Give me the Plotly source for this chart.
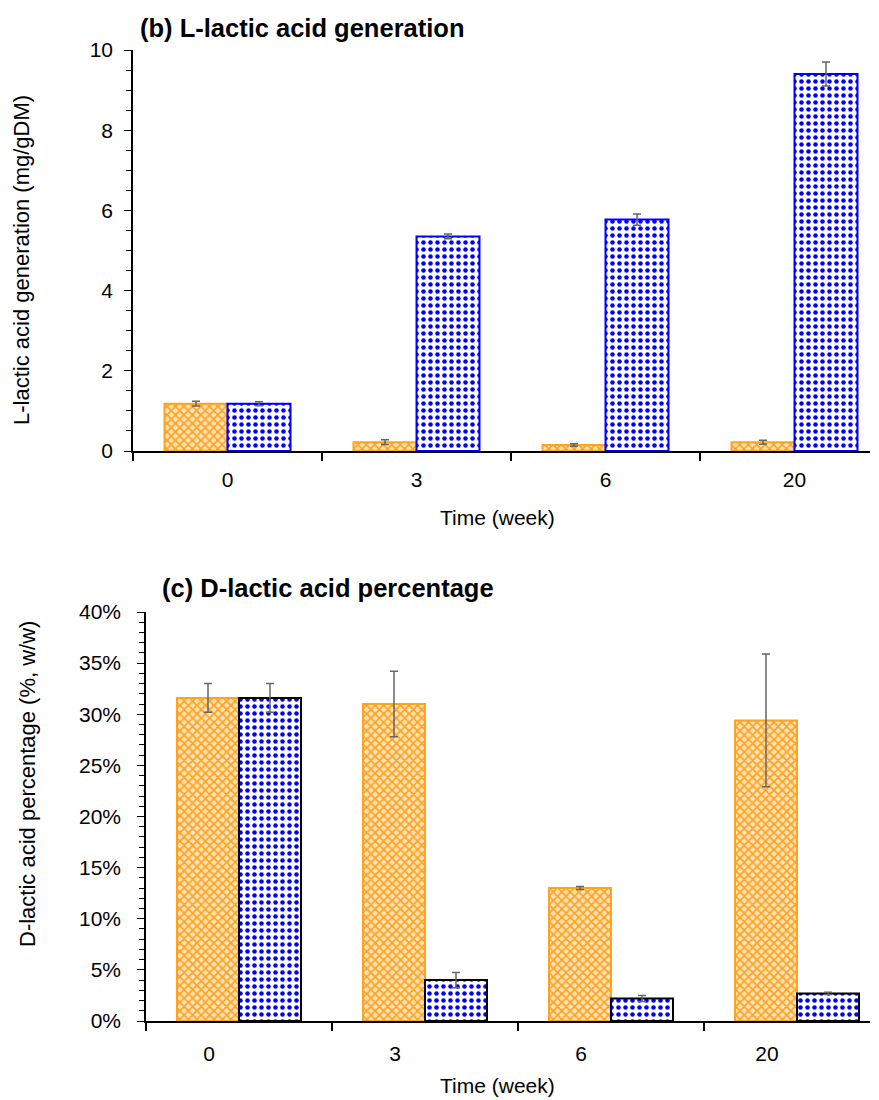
import plotly.graph_objects as go

weeks = ["0", "3", "6", "20"]

# (b) L-lactic acid generation (mg/gDM)
l_orange = [1.18, 0.22, 0.15, 0.22]
l_orange_err = [0.06, 0.06, 0.03, 0.05]
l_blue = [1.18, 5.35, 5.77, 9.40]
l_blue_err = [0.05, 0.06, 0.14, 0.30]

# (c) D-lactic acid percentage (fraction)
d_orange = [0.316, 0.310, 0.130, 0.294]
d_orange_err = [0.014, 0.032, 0.0015, 0.065]
d_blue = [0.316, 0.040, 0.022, 0.027]
d_blue_err = [0.014, 0.0075, 0.003, 0.001]

ORANGE = "#FFA21F"
BLUE = "#0000FF"
ERR = "#666666"
FONT = "Liberation Sans, Arial, sans-serif"

W, H = 879, 1100


def px_x(p):
    return p / W


def px_y(p):
    return 1 - p / H


orange_pattern = dict(shape="x", fgcolor=ORANGE, bgcolor="#FFE3B8", size=6, solidity=0.5)
blue_pattern = dict(shape=".", fgcolor=BLUE, bgcolor="white", size=7, solidity=0.33)

fig = go.Figure()

# top chart
fig.add_trace(go.Bar(
    x=weeks, y=l_orange, xaxis="x", yaxis="y",
    marker=dict(color="white", pattern=orange_pattern, line=dict(color=ORANGE, width=2)),
    error_y=dict(type="data", array=l_orange_err, color=ERR, thickness=1.5, width=4),
    showlegend=False,
))
fig.add_trace(go.Bar(
    x=weeks, y=l_blue, xaxis="x", yaxis="y",
    marker=dict(color="white", pattern=blue_pattern, line=dict(color=BLUE, width=2)),
    error_y=dict(type="data", array=l_blue_err, color=ERR, thickness=1.5, width=4),
    showlegend=False,
))

# bottom chart
fig.add_trace(go.Bar(
    x=weeks, y=d_orange, xaxis="x2", yaxis="y2",
    marker=dict(color="white", pattern=orange_pattern, line=dict(color=ORANGE, width=2)),
    error_y=dict(type="data", array=d_orange_err, color=ERR, thickness=1.5, width=4),
    showlegend=False,
))
fig.add_trace(go.Bar(
    x=weeks, y=d_blue, xaxis="x2", yaxis="y2",
    marker=dict(color="white", pattern=blue_pattern, line=dict(color="black", width=2)),
    error_y=dict(type="data", array=d_blue_err, color=ERR, thickness=1.5, width=4),
    showlegend=False,
))

top_x0, top_x1 = 133, 870
top_cat = 189.0
bot_x0, bot_x1 = 146, 870
bot_cat = 186.0

tick_font = dict(family=FONT, size=21, color="black")
title_font = dict(family=FONT, size=21, color="black")
ytitle_font = dict(family=FONT, size=22, color="black")
head_font = dict(family=FONT, size=25.5, color="black")

fig.update_layout(
    template="none",
    width=W, height=H,
    margin=dict(l=0, r=0, t=0, b=0),
    paper_bgcolor="white", plot_bgcolor="white",
    barmode="group", bargap=1/3, bargroupgap=0,
    font=dict(family=FONT, size=20, color="black"),
    xaxis=dict(
        domain=[px_x(top_x0), px_x(top_x1)], anchor="y", type="category",
        range=[-0.5, -0.5 + (top_x1 - top_x0) / top_cat], automargin=False,
        showline=True, linecolor="black", linewidth=1.5,
        ticks="outside", tickson="boundaries", ticklen=8, tickcolor="black", tickwidth=1.5,
        ticklabelstandoff=9,
        tickfont=tick_font, showgrid=False, zeroline=False,
    ),
    yaxis=dict(
        domain=[px_y(451), px_y(50)], anchor="x", automargin=False,
        range=[0, 10], dtick=2, tick0=0,
        showline=True, linecolor="black", linewidth=1.5,
        ticks="outside", ticklen=7, tickcolor="black", tickwidth=1.2,
        minor=dict(dtick=0.5, ticks="outside", ticklen=5, tickcolor="black", tickwidth=1, showgrid=False),
        ticklabelstandoff=7,
        tickfont=tick_font, showgrid=False, zeroline=False,
    ),
    xaxis2=dict(
        domain=[px_x(bot_x0), px_x(bot_x1)], anchor="y2", type="category",
        range=[-0.5, -0.5 + (bot_x1 - bot_x0) / bot_cat], automargin=False,
        showline=True, linecolor="black", linewidth=1.5,
        ticks="outside", tickson="boundaries", ticklen=8, tickcolor="black", tickwidth=1.5,
        ticklabelshift=-30, ticklabelstandoff=13,
        tickfont=tick_font, showgrid=False, zeroline=False,
    ),
    yaxis2=dict(
        domain=[px_y(1021), px_y(612)], anchor="x2", automargin=False,
        range=[0, 0.40], dtick=0.05, tick0=0, tickformat=".0%",
        showline=True, linecolor="black", linewidth=1.5,
        ticks="outside", ticklen=7, tickcolor="black", tickwidth=1.2,
        minor=dict(dtick=0.01, ticks="outside", ticklen=5, tickcolor="black", tickwidth=1, showgrid=False),
        ticklabelstandoff=12,
        tickfont=tick_font, showgrid=False, zeroline=False,
    ),
    annotations=[
        dict(text="<b>(b) L-lactic acid generation</b>", x=px_x(138), y=px_y(28),
             xref="paper", yref="paper", xanchor="left", yanchor="middle",
             showarrow=False, font=head_font),
        dict(text="<b>(c) D-lactic acid percentage</b>", x=px_x(160), y=px_y(588),
             xref="paper", yref="paper", xanchor="left", yanchor="middle",
             showarrow=False, font=head_font),
        dict(text="L-lactic acid generation (mg/gDM)", x=px_x(22), y=px_y(260),
             xref="paper", yref="paper", xanchor="center", yanchor="middle", textangle=-90,
             showarrow=False, font=ytitle_font),
        dict(text="D-lactic acid percentage (%, w/w)", x=px_x(27), y=px_y(784),
             xref="paper", yref="paper", xanchor="center", yanchor="middle", textangle=-90,
             showarrow=False, font=ytitle_font),
        dict(text="Time (week)", x=px_x(497), y=px_y(517),
             xref="paper", yref="paper", xanchor="center", yanchor="middle",
             showarrow=False, font=title_font),
        dict(text="Time (week)", x=px_x(497), y=px_y(1085),
             xref="paper", yref="paper", xanchor="center", yanchor="middle",
             showarrow=False, font=title_font),
    ],
)

fig.write_html("out.html")
